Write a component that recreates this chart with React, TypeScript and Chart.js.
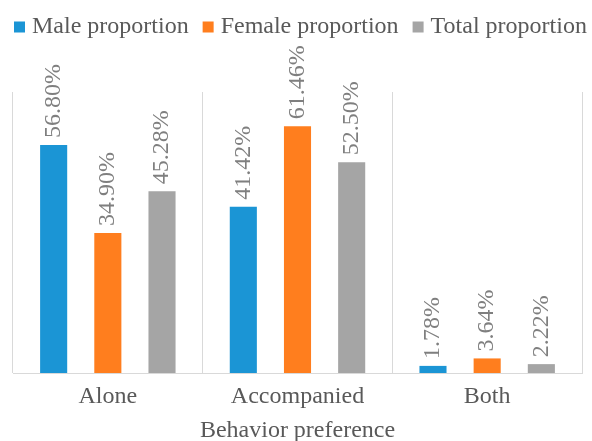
import React, { useEffect, useRef } from "react";
import { Chart, registerables } from "chart.js";

Chart.register(...registerables);

// Share of each behaviour preference, in percent
const categories = ["Alone", "Accompanied", "Both"];
const seriesNames = ["Male proportion", "Female proportion", "Total proportion"];
const maleProportion = [56.8, 41.42, 1.78];
const femaleProportion = [34.9, 61.46, 3.64];
const totalProportion = [45.28, 52.5, 2.22];
const xAxisTitle = "Behavior preference";
const yMin = 0;
const yMax = 70;

const FONT = "'Liberation Serif', 'Times New Roman', serif";
const SERIES_COLORS = ["#1b95d5", "#ff7e1e", "#a5a5a5"];
const TEXT_COLOR = "#595959";
const LABEL_COLOR = "#7f7f7f";
const GRID_COLOR = "#d9d9d9";

// Rotated percentage labels above each bar
const valueLabels = {
  id: "valueLabels",
  afterDatasetsDraw(chart: any) {
    const ctx = chart.ctx;
    ctx.save();
    ctx.font = `24px ${FONT}`;
    ctx.fillStyle = LABEL_COLOR;
    ctx.textAlign = "left";
    ctx.textBaseline = "middle";
    chart.data.datasets.forEach((ds: any, di: number) => {
      const meta = chart.getDatasetMeta(di);
      meta.data.forEach((bar: any, i: number) => {
        const v = ds.data[i] as number;
        ctx.save();
        ctx.translate(bar.x, bar.y - 7);
        ctx.rotate(-Math.PI / 2);
        ctx.fillText(v.toFixed(2) + "%", 0, 0);
        ctx.restore();
      });
    });
    ctx.restore();
  },
};

// Single-row legend across the top
const topLegend = {
  id: "topLegend",
  afterDraw(chart: any) {
    const ctx = chart.ctx;
    ctx.save();
    ctx.font = `24px ${FONT}`;
    ctx.textAlign = "left";
    ctx.textBaseline = "middle";
    const cy = 27;
    const box = 11;
    let x = 14;
    chart.data.datasets.forEach((ds: any) => {
      ctx.fillStyle = ds.backgroundColor;
      ctx.fillRect(x, cy - box / 2, box, box);
      const tx = x + box + 7;
      ctx.fillStyle = TEXT_COLOR;
      ctx.fillText(ds.label, tx, cy);
      x = tx + ctx.measureText(ds.label).width + 14;
    });
    ctx.restore();
  },
};

export default function App() {
  const canvasRef = useRef<HTMLCanvasElement | null>(null);

  useEffect(() => {
    document.body.style.margin = "0";
    const canvas = canvasRef.current;
    if (!canvas) return;
    const seriesValues = [maleProportion, femaleProportion, totalProportion];
    const chart = new Chart(canvas, {
      type: "bar",
      data: {
        labels: categories,
        datasets: seriesValues.map((values, i) => ({
          label: seriesNames[i],
          data: values,
          backgroundColor: SERIES_COLORS[i],
          borderWidth: 0,
          categoryPercentage: 0.857,
          barPercentage: 0.5,
        })),
      },
      options: {
        responsive: false,
        animation: false,
        layout: { padding: { top: 92, left: 13, right: 10, bottom: 0 } },
        plugins: {
          legend: { display: false },
          tooltip: { enabled: false },
        },
        scales: {
          x: {
            grid: {
              display: true,
              color: GRID_COLOR,
              lineWidth: 1,
              drawTicks: false,
              offset: true,
            },
            border: { display: true, color: GRID_COLOR, width: 1 },
            ticks: {
              color: TEXT_COLOR,
              font: { family: FONT, size: 24 },
              padding: 9.5,
            },
            title: {
              display: true,
              text: xAxisTitle,
              color: TEXT_COLOR,
              font: { family: FONT, size: 24, lineHeight: 0.84 },
              padding: { top: 0, bottom: 0 },
            },
          },
          y: {
            display: false,
            min: yMin,
            max: yMax,
          },
        },
      },
      plugins: [valueLabels, topLegend],
    });
    return () => chart.destroy();
  }, []);

  return (
    <div style={{ width: 592, height: 441, background: "#ffffff" }}>
      <canvas ref={canvasRef} width={592} height={441} />
    </div>
  );
}
